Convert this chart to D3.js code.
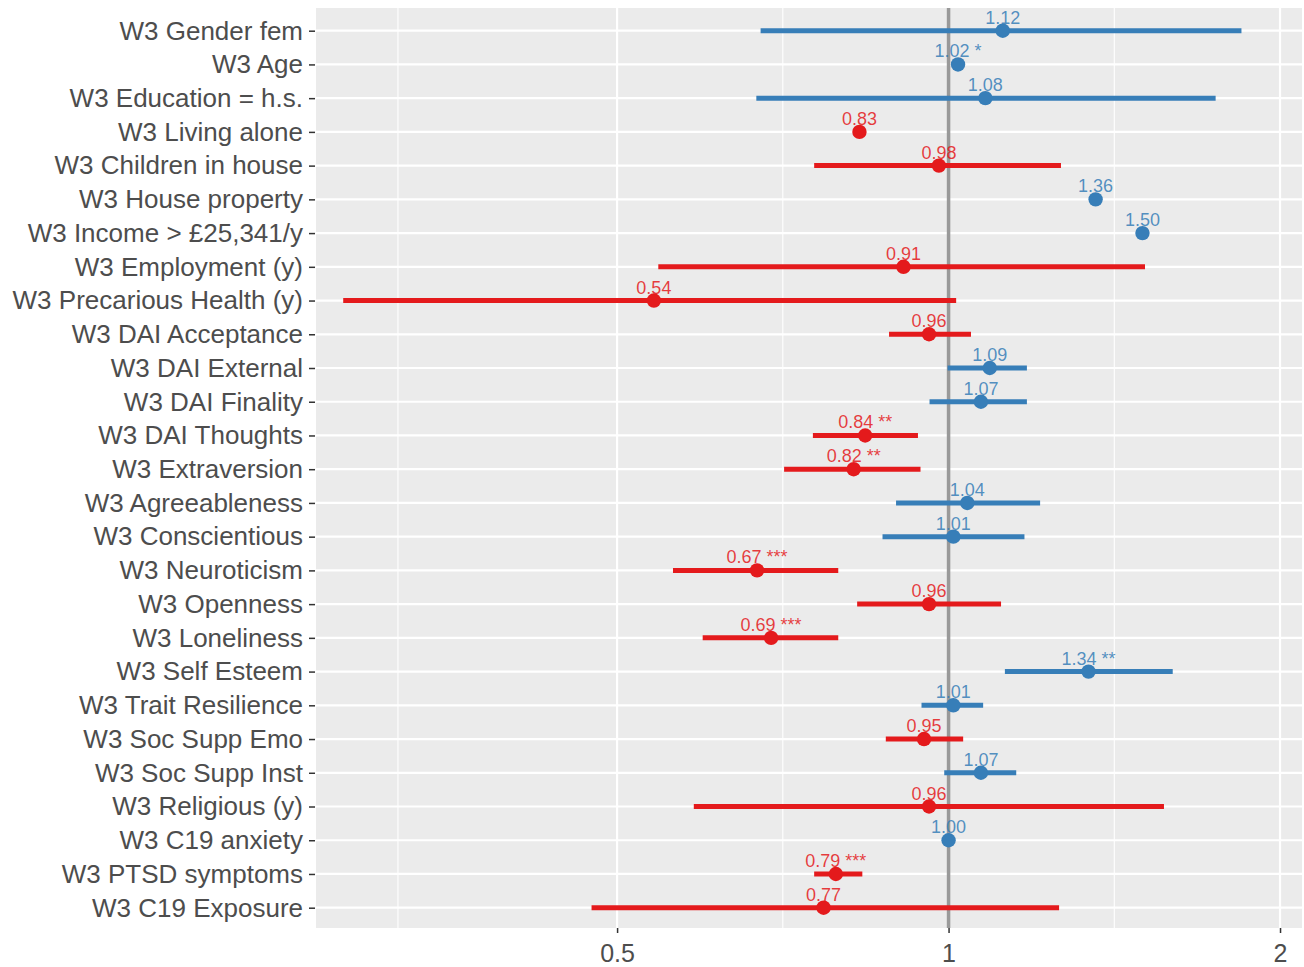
<!DOCTYPE html>
<html>
<head>
<meta charset="utf-8">
<script src="https://cdn.jsdelivr.net/npm/d3@7"></script>
<style>
  html, body { margin: 0; padding: 0; background: #ffffff; }
  svg { display: block; }
</style>
</head>
<body>
<svg id="chart" width="1304" height="967"></svg>
<script>
// ---- data ----
const categories = [
  "W3 Gender fem", "W3 Age", "W3 Education = h.s.", "W3 Living alone",
  "W3 Children in house", "W3 House property", "W3 Income > £25,341/y",
  "W3 Employment (y)", "W3 Precarious Health (y)", "W3 DAI Acceptance",
  "W3 DAI External", "W3 DAI Finality", "W3 DAI Thoughts", "W3 Extraversion",
  "W3 Agreeableness", "W3 Conscientious", "W3 Neuroticism", "W3 Openness",
  "W3 Loneliness", "W3 Self Esteem", "W3 Trait Resilience", "W3 Soc Supp Emo",
  "W3 Soc Supp Inst", "W3 Religious (y)", "W3 C19 anxiety", "W3 PTSD symptoms",
  "W3 C19 Exposure"
];
const estimates = [1.12, 1.02, 1.08, 0.83, 0.98, 1.36, 1.50, 0.91, 0.54, 0.96,
  1.09, 1.07, 0.84, 0.82, 1.04, 1.01, 0.67, 0.96, 0.69, 1.34, 1.01, 0.95,
  1.07, 0.96, 1.00, 0.79, 0.77];
const lower = [0.675, 1.01, 0.669, 0.82, 0.755, 1.35, 1.49, 0.545, 0.282, 0.883,
  0.998, 0.961, 0.753, 0.709, 0.896, 0.871, 0.562, 0.826, 0.598, 1.125, 0.945, 0.877,
  0.991, 0.587, 0.995, 0.755, 0.474];
const upper = [1.845, 1.03, 1.748, 0.84, 1.265, 1.37, 1.51, 1.508, 1.016, 1.048,
  1.178, 1.178, 0.938, 0.943, 1.211, 1.172, 0.794, 1.116, 0.794, 1.598, 1.075, 1.031,
  1.152, 1.569, 1.005, 0.835, 1.26];
const stars = ["", "*", "", "", "", "", "", "", "", "",
  "", "", "**", "**", "", "", "***", "", "***", "**", "", "",
  "", "", "", "***", ""];
const valueLabels = ["1.12", "1.02", "1.08", "0.83", "0.98", "1.36", "1.50", "0.91", "0.54", "0.96",
  "1.09", "1.07", "0.84", "0.82", "1.04", "1.01", "0.67", "0.96", "0.69", "1.34", "1.01", "0.95",
  "1.07", "0.96", "1.00", "0.79", "0.77"];
const xTicks = [0.5, 1, 2];
const xTickLabels = ["0.5", "1", "2"];
const xMinorGrid = [0.3162, 0.7071, 1.4142];
const xDomain = [0.2664, 2.094];
const refValue = 1;

// ---- layout ----
const panel = { left: 316, right: 1302, top: 8, bottom: 928 };
const RED = "#e41a1c", BLUE = "#377eb8";
const FONT = "'Liberation Sans', Arial, Helvetica, sans-serif";

const rows = categories.map((c, i) => ({
  cat: c, est: estimates[i], lo: lower[i], hi: upper[i],
  label: valueLabels[i] + (stars[i] ? " " + stars[i] : "")
}));

const svg = d3.select("#chart");
const x = d3.scaleLog().domain(xDomain).range([panel.left, panel.right]);
const y = d3.scalePoint().domain(categories).range([30.7, 907.7]);
const colorOf = d => d.est >= 1 ? BLUE : RED;

// panel background
svg.append("rect")
  .attr("x", panel.left).attr("y", panel.top)
  .attr("width", panel.right - panel.left).attr("height", panel.bottom - panel.top)
  .attr("fill", "#ebebeb");

// minor vertical gridlines
svg.append("g").selectAll("line").data(xMinorGrid).join("line")
  .attr("x1", d => x(d)).attr("x2", d => x(d))
  .attr("y1", panel.top).attr("y2", panel.bottom)
  .attr("stroke", "#ffffff").attr("stroke-width", 1.1);

// major vertical gridlines
svg.append("g").selectAll("line").data(xTicks).join("line")
  .attr("x1", d => x(d)).attr("x2", d => x(d))
  .attr("y1", panel.top).attr("y2", panel.bottom)
  .attr("stroke", "#ffffff").attr("stroke-width", 2.2);

// horizontal gridlines
svg.append("g").selectAll("line").data(categories).join("line")
  .attr("x1", panel.left).attr("x2", panel.right)
  .attr("y1", d => y(d)).attr("y2", d => y(d))
  .attr("stroke", "#ffffff").attr("stroke-width", 2.2);

// reference line at 1
svg.append("line")
  .attr("x1", x(refValue)).attr("x2", x(refValue))
  .attr("y1", panel.top).attr("y2", panel.bottom)
  .attr("stroke", "#999999").attr("stroke-width", 3.5);

// CI bars
svg.append("g").selectAll("line").data(rows).join("line")
  .attr("x1", d => x(d.lo)).attr("x2", d => x(d.hi))
  .attr("y1", d => y(d.cat)).attr("y2", d => y(d.cat))
  .attr("stroke", colorOf).attr("stroke-width", 5);

// points
svg.append("g").selectAll("circle").data(rows).join("circle")
  .attr("cx", d => x(d.est)).attr("cy", d => y(d.cat))
  .attr("r", 7.2).attr("fill", colorOf);

// value labels
svg.append("g").selectAll("text").data(rows).join("text")
  .attr("x", d => x(d.est)).attr("y", d => y(d.cat) - 7)
  .attr("text-anchor", "middle")
  .attr("font-family", FONT).attr("font-size", 18)
  .attr("fill", colorOf).attr("fill-opacity", 0.85)
  .text(d => d.label);

// y axis
const yAxis = d3.axisLeft(y).tickSize(6).tickPadding(6);
const gy = svg.append("g").attr("transform", `translate(${panel.left - 1},0)`).call(yAxis);
gy.select(".domain").remove();
gy.selectAll(".tick line").attr("stroke", "#333333").attr("stroke-width", 1.5);
gy.selectAll(".tick text")
  .attr("font-family", FONT).attr("font-size", 26).attr("fill", "#4d4d4d");

// x axis
const xAxis = d3.axisBottom(x).tickValues(xTicks)
  .tickFormat((d, i) => xTickLabels[i]).tickSize(5).tickPadding(11);
const gx = svg.append("g").attr("transform", `translate(0,${panel.bottom})`).call(xAxis);
gx.select(".domain").remove();
gx.selectAll(".tick line").attr("stroke", "#333333").attr("stroke-width", 1.5);
gx.selectAll(".tick text")
  .attr("font-family", FONT).attr("font-size", 25).attr("fill", "#4d4d4d");
</script>
</body>
</html>
